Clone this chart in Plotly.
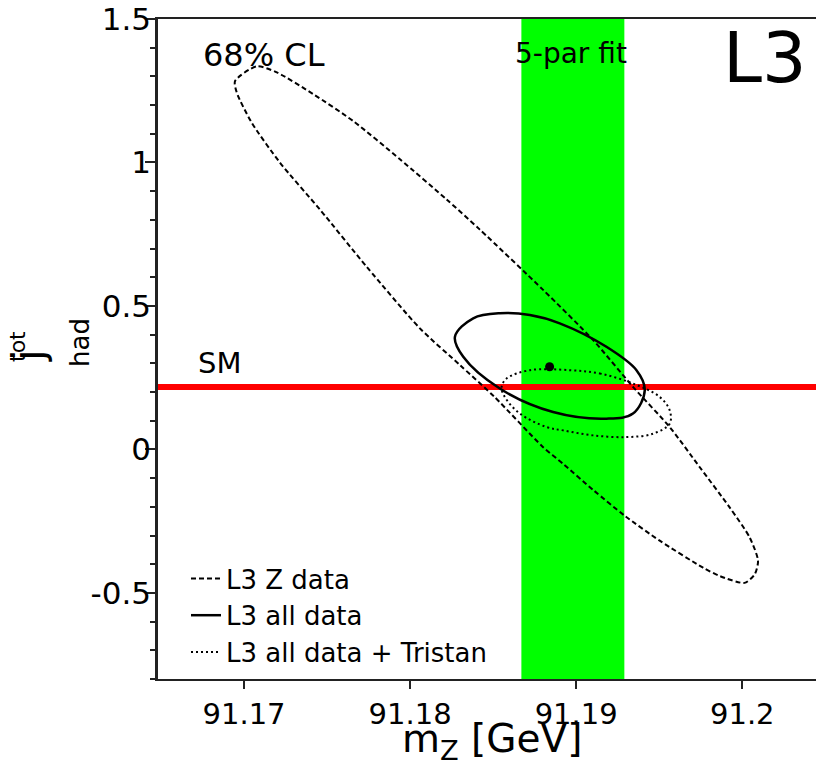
import plotly.graph_objects as go

# ---------------- data ----------------
# 5-parameter fit band in m_Z
mz_fit = 91.1898
mz_fit_err = 0.0031
# Standard Model value of j_had^tot
sm_j = 0.218
# central value of the fit
centre_mz = [91.1884]
centre_j = [0.288]

# 68% CL contour: L3 Z data (dashed)
zdata_mz = [91.17939, 91.18220, 91.18420, 91.18801, 91.19102, 91.19342, 91.19563,
            91.19744, 91.19924, 91.20045, 91.20095, 91.20075, 91.20014, 91.19864,
            91.19764, 91.19503, 91.19292, 91.19106, 91.18921, 91.18801, 91.18510,
            91.18300, 91.18059, 91.17738, 91.17457, 91.17217, 91.17046, 91.16956,
            91.16946, 91.17076, 91.17197, 91.17417, 91.17658, 91.17939]
zdata_j = [1.011, 0.871, 0.766, 0.556, 0.381, 0.218, 0.078,
           -0.062, -0.202, -0.307, -0.388, -0.435, -0.465, -0.441,
           -0.412, -0.318, -0.231, -0.143, -0.050, 0.008, 0.182,
           0.294, 0.422, 0.637, 0.836, 0.999, 1.139, 1.244,
           1.284, 1.335, 1.314, 1.238, 1.144, 1.011]

# 68% CL contour: L3 all data (solid)
all_mz = [91.18861, 91.18540, 91.18320, 91.18270, 91.18380, 91.18540, 91.18721,
          91.18901, 91.19182, 91.19363, 91.19413, 91.19342, 91.19182, 91.18861]
all_j = [0.1304, 0.2122, 0.3227, 0.3927, 0.4570, 0.4745, 0.4685,
         0.4395, 0.3577, 0.2762, 0.2063, 0.1248, 0.1073, 0.1304]

# 68% CL contour: L3 all data + Tristan (dotted)
tri_mz = [91.18962, 91.19142, 91.19342, 91.19503, 91.19563, 91.19563, 91.19463,
          91.19303, 91.19102, 91.18921, 91.18821, 91.18661, 91.18570, 91.18551,
          91.18581, 91.18721, 91.18962]
tri_j = [0.2762, 0.2647, 0.2297, 0.1829, 0.1364, 0.0899, 0.0549,
         0.0430, 0.0490, 0.0664, 0.0780, 0.1248, 0.1829, 0.2178,
         0.2472, 0.2762, 0.2762]

x_ticks = [91.17, 91.18, 91.19, 91.2]
x_tick_labels = ["91.17", "91.18", "91.19", "91.2"]
y_ticks = [-0.5, 0, 0.5, 1, 1.5]
y_tick_labels = ["-0.5", "0", "0.5", "1", "1.5"]
series_names = ["L3 Z data", "L3 all data", "L3 all data + Tristan"]

# ---------------- figure ----------------
FONT = "DejaVu Sans"
fig = go.Figure()

fig.add_vrect(x0=mz_fit - mz_fit_err, x1=mz_fit + mz_fit_err,
              fillcolor="#00ff00", opacity=1, line_width=0, layer="below")
fig.add_hline(y=sm_j, line_color="#ff0000", line_width=6, layer="below")

fig.add_trace(go.Scatter(x=zdata_mz, y=zdata_j, mode="lines", name=series_names[0],
                         line=dict(color="black", width=2, dash="5px,3px",
                                   shape="spline", smoothing=0.7)))
fig.add_trace(go.Scatter(x=all_mz, y=all_j, mode="lines", name=series_names[1],
                         line=dict(color="black", width=2.5, shape="spline", smoothing=1.0)))
fig.add_trace(go.Scatter(x=tri_mz, y=tri_j, mode="lines", name=series_names[2],
                         line=dict(color="black", width=2, dash="2px,3px",
                                   shape="spline", smoothing=1.0)))
fig.add_trace(go.Scatter(x=centre_mz, y=centre_j, mode="markers", showlegend=False,
                         marker=dict(color="black", size=9)))

W, H = 816, 763
L, R, T, B = 158, 0, 19, 84
pw, ph = W - L - R, H - T - B


def px(x):
    return (x - L) / pw


def py(y):
    return (H - B - y) / ph


annots = [
    dict(text="68% CL", x=px(264), y=py(55), font=dict(size=32)),
    dict(text="5-par fit", x=px(571), y=py(54), font=dict(size=28)),
    dict(text="L3", x=px(765), y=py(58), font=dict(size=70)),
    dict(text="SM", x=px(219), y=py(363), font=dict(size=29)),
    dict(text="m<sub>Z</sub> [GeV]", x=px(492), y=py(741), font=dict(size=39)),
    dict(text="j", x=px(28), y=py(356), font=dict(size=42), textangle=-90),
    dict(text="had", x=px(80), y=py(343), font=dict(size=26), textangle=-90),
    dict(text="tot", x=px(17), y=py(347), font=dict(size=22), textangle=-90),
]
for a in annots:
    a.update(xref="paper", yref="paper", showarrow=False,
             xanchor="center", yanchor="middle")
    a["font"].update(family=FONT, color="black")

fig.update_layout(
    width=W, height=H,
    margin=dict(l=L, r=R, t=T, b=B, pad=0),
    plot_bgcolor="white", paper_bgcolor="white",
    font=dict(family=FONT, color="black"),
    annotations=annots,
    showlegend=True,
    legend=dict(x=px(186), y=py(555), xanchor="left", yanchor="top",
                bgcolor="rgba(0,0,0,0)", borderwidth=0,
                font=dict(size=26, family=FONT, color="black"),
                tracegroupgap=0),
    xaxis=dict(range=[91.16482, 91.20444], tickvals=x_ticks, ticktext=x_tick_labels,
               ticks="outside", ticklen=8, tickwidth=1.5, tickcolor="#222",
               showline=True, linecolor="#222", linewidth=1.5, mirror=True,
               showgrid=False, zeroline=False,
               tickfont=dict(size=29, family=FONT, color="black")),
    yaxis=dict(range=[-0.8, 1.5], tickvals=y_ticks, ticktext=y_tick_labels,
               ticks="outside", ticklen=10, tickwidth=1.5, tickcolor="#222",
               ticklabelstandoff=-12,
               minor=dict(dtick=0.1, tick0=0, ticks="outside", ticklen=5,
                          tickwidth=1.5, tickcolor="#222"),
               showline=True, linecolor="#222", linewidth=2.5,
               showgrid=False, zeroline=False,
               tickfont=dict(size=31, family=FONT, color="black")),
)

fig.write_html("out.html", config={"displayModeBar": False},
               post_script="document.body.style.margin='0px';document.body.style.padding='0px';")
